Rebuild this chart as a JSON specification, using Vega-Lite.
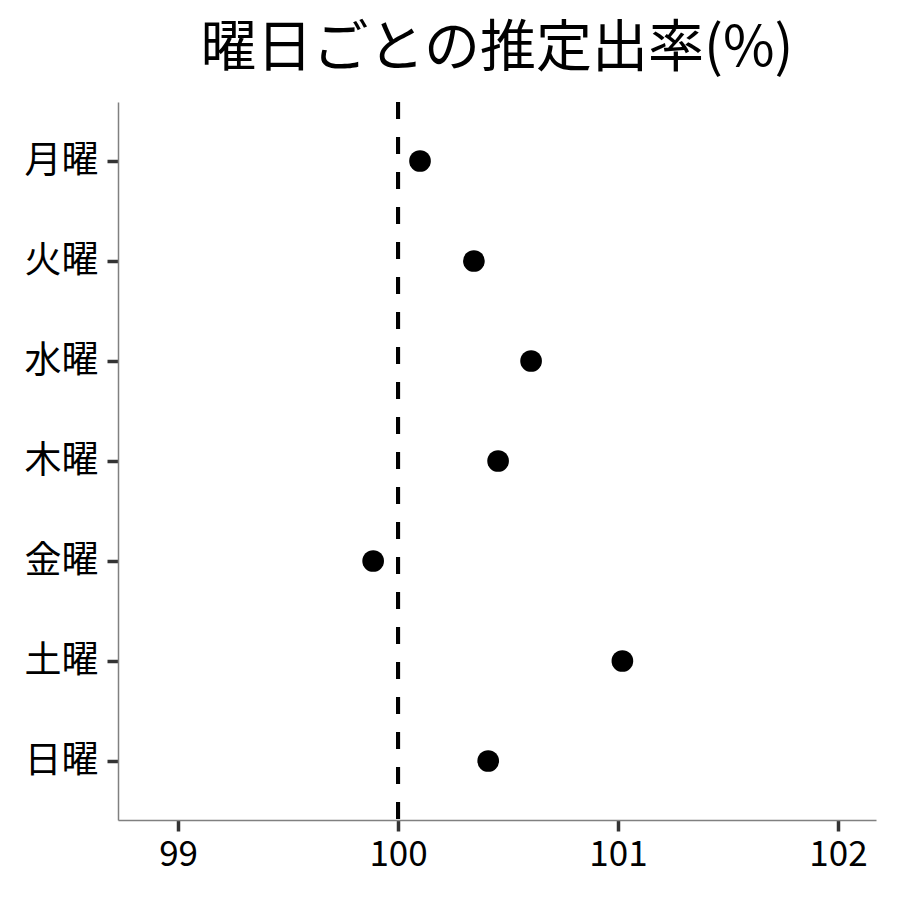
{
  "$schema": "https://vega.github.io/schema/vega-lite/v6.json",
  "autosize": {"type": "none"},
  "padding": {"left": 118, "top": 102, "right": 24, "bottom": 80},
  "width": 758,
  "height": 718,
  "background": "white",
  "title": {
    "text": "曜日ごとの推定出率(%)",
    "anchor": "middle",
    "fontSize": 56,
    "fontWeight": "normal",
    "font": "Noto Sans CJK JP",
    "color": "black",
    "offset": 22
  },
  "data": {
    "values": [
      {"day": "月曜", "rate": 100.10},
      {"day": "火曜", "rate": 100.345},
      {"day": "水曜", "rate": 100.605},
      {"day": "木曜", "rate": 100.455},
      {"day": "金曜", "rate": 99.887},
      {"day": "土曜", "rate": 101.02},
      {"day": "日曜", "rate": 100.41}
    ]
  },
  "layer": [
    {
      "mark": {"type": "rule", "strokeDash": [17, 18], "strokeWidth": 4, "color": "black"},
      "encoding": {"x": {"datum": 100, "type": "quantitative"}}
    },
    {
      "mark": {"type": "circle", "size": 470, "color": "black", "opacity": 1},
      "encoding": {
        "x": {
          "field": "rate",
          "type": "quantitative",
          "scale": {"domain": [98.727, 102.173], "nice": false, "zero": false},
          "axis": {
            "title": null,
            "values": [99, 100, 101, 102],
            "format": "d",
            "grid": false,
            "labelFontSize": 35,
            "labelFont": "Noto Sans CJK JP",
            "labelColor": "black",
            "labelPadding": 6,
            "tickSize": 11,
            "tickWidth": 3.5,
            "tickColor": "#333333",
            "domainColor": "#808080",
            "domainWidth": 1.5
          }
        },
        "y": {
          "field": "day",
          "type": "ordinal",
          "sort": null,
          "scale": {"type": "point", "padding": 0.59},
          "axis": {
            "title": null,
            "grid": false,
            "labelFontSize": 37,
            "labelFont": "Noto Sans CJK JP",
            "labelColor": "black",
            "labelPadding": 9,
            "tickSize": 11,
            "tickWidth": 3.5,
            "tickColor": "#333333",
            "domainColor": "#808080",
            "domainWidth": 1.5
          }
        }
      }
    }
  ],
  "config": {
    "view": {"stroke": null}
  }
}
